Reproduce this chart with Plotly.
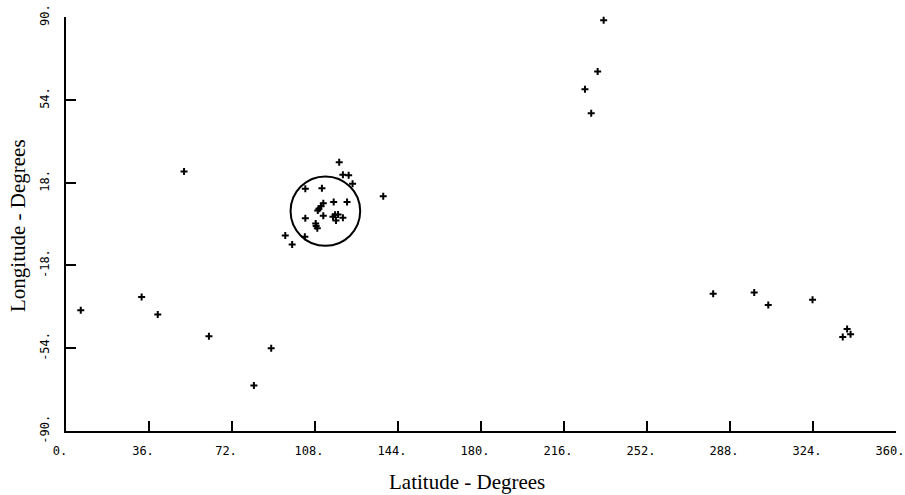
import plotly.graph_objects as go

# Data (degrees)
latitude = [6.4, 32.8, 39.8, 51.2, 62.0, 89.0, 81.5, 95.1, 98.1,
            118.5, 120.1, 122.6, 124.3, 103.8, 111.0, 137.6, 111.6, 116.1, 121.9,
            110.6, 109.7, 109.2, 111.6, 115.8, 116.7, 118.0, 117.1, 120.1, 103.8,
            108.3, 108.5, 109.0, 103.6,
            233.2, 230.6, 225.1, 227.8,
            280.7, 298.5, 304.6, 323.8, 338.8, 340.3, 336.9]
longitude = [-37.5, -31.7, -39.4, 22.8, -48.8, -54.0, -70.2, -5.0, -8.9,
             26.8, 21.4, 21.2, 17.5, 15.3, 15.5, 12.1, 9.0, 9.6, 9.6,
             7.7, 6.6, 5.9, 3.6, 3.1, 4.0, 4.1, 1.5, 2.7, 2.5,
             0.2, -0.9, -1.9, -5.5,
             88.6, 66.3, 58.6, 48.2,
             -30.3, -29.8, -35.2, -32.9, -45.6, -47.9, -49.1]

x_ticks = [0, 36, 72, 108, 144, 180, 216, 252, 288, 324, 360]
x_ticktext = ["0.", "36.", "72.", "108.", "144.", "180.", "216.", "252.", "288.", "324.", "360."]
y_ticks = [-90, -54, -18, 18, 54, 90]
y_ticktext = ["-90.", "-54.", "-18.", "18.", "54.", "90."]

circle_center = (112.5, 5.6)
circle_radius = 15.1

fig = go.Figure()
fig.add_trace(go.Scatter(
    x=latitude, y=longitude, mode="markers",
    marker=dict(symbol="cross-thin", size=5, color="black",
                line=dict(color="black", width=2)),
    hoverinfo="x+y", showlegend=False, cliponaxis=False,
))

fig.add_shape(type="circle", xref="x", yref="y",
              x0=circle_center[0] - circle_radius, x1=circle_center[0] + circle_radius,
              y0=circle_center[1] - circle_radius, y1=circle_center[1] + circle_radius,
              line=dict(color="black", width=2))

tick_font = dict(family="DejaVu Sans Mono", size=12, color="black")
title_font = dict(family="Liberation Serif", size=21, color="black")

fig.update_layout(
    width=905, height=495,
    margin=dict(l=66, r=9, t=17, b=64),
    paper_bgcolor="white", plot_bgcolor="white",
    xaxis=dict(range=[0, 360], tickvals=x_ticks, ticktext=x_ticktext,
               showline=True, linecolor="black", linewidth=2,
               ticks="inside", ticklen=10, tickwidth=2, tickcolor="black",
               showgrid=False, zeroline=False, tickfont=tick_font,
               ticklabelstandoff=8, ticklabelshift=-6,
               automargin=False, ticklabeloverflow="allow"),
    yaxis=dict(range=[-90, 90], tickvals=y_ticks, ticktext=y_ticktext,
               showline=True, linecolor="black", linewidth=2,
               ticks="inside", ticklen=10, tickwidth=2, tickcolor="black",
               showgrid=False, zeroline=False, tickfont=tick_font,
               tickangle=-90, ticklabelstandoff=10, automargin=False,
               ticklabeloverflow="allow"),
    annotations=[
        dict(text="Latitude - Degrees", xref="paper", yref="paper",
             x=0.5, y=0, xanchor="center", yanchor="middle", yshift=-51,
             xshift=-14, showarrow=False, font=title_font),
        dict(text="Longitude - Degrees", xref="paper", yref="paper",
             x=0, y=0.5, xanchor="center", yanchor="middle", xshift=-48,
             yshift=-2, textangle=-90, showarrow=False, font=title_font),
    ],
)

fig.write_html("out.html", config={"displayModeBar": False},
               post_script="document.body.style.margin='0';document.body.style.overflow='hidden';")
